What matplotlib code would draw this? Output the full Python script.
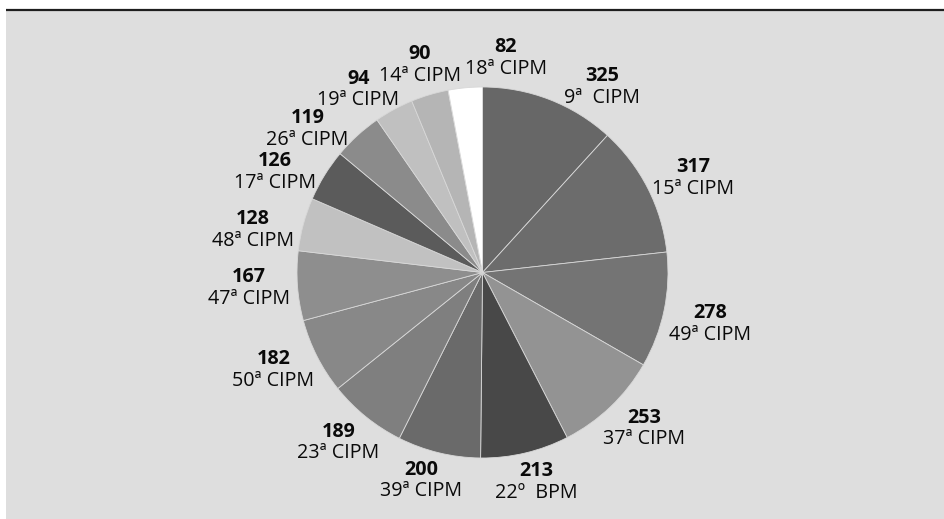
import matplotlib
matplotlib.use("Agg")
import matplotlib.pyplot as plt
from matplotlib.patches import Rectangle
import numpy as np

plt.rcParams['font.family'] = ['Open Sans', 'DejaVu Sans']

# Meetings and number of resolutions/decisions
counts = [325, 317, 278, 253, 213, 200, 189, 182, 167, 128, 126, 119, 94, 90, 82]
meetings = ["9ª  CIPM", "15ª CIPM", "49ª CIPM", "37ª CIPM", "22º  BPM", "39ª CIPM",
            "23ª CIPM", "50ª CIPM", "47ª CIPM", "48ª CIPM", "17ª CIPM", "26ª CIPM",
            "19ª CIPM", "14ª CIPM", "18ª CIPM"]
shades = ["#676767", "#6c6c6c", "#747474", "#939393", "#484848", "#6a6a6a",
          "#7f7f7f", "#888888", "#8e8e8e", "#c1c1c1", "#5b5b5b", "#8b8b8b",
          "#c0c0c0", "#b5b5b5", "#ffffff"]

# Manual angular nudges (degrees) to keep crowded labels apart
label_nudge = {0: -9.5, 1: -1.0, 2: -2.0, 5: -1.6, 6: 1.0, 9: 3.7, 10: 3.8,
               11: 5.9, 12: 3.4, 13: -1.0, 14: -11.0}

W, H = 945, 519
fig = plt.figure(figsize=(W / 100, H / 100), dpi=100)
fig.patch.set_facecolor("white")

ax = fig.add_axes([0, 0, 1, 1])
ax.set_facecolor("none")

# grey panel with a dark rule along the top
ax.add_patch(Rectangle((6, 0), W - 6, H - 10, facecolor="#dedede", edgecolor="none", zorder=0))
ax.plot([6, W], [H - 10, H - 10], color="#1e1e1e", linewidth=1.6, zorder=1,
        solid_capstyle="butt")

cx, cy, r = 482.5, H - 272.5, 185.5
wedges, _ = ax.pie(counts, colors=shades, startangle=90, counterclock=False,
                   center=(cx, cy), radius=r,
                   wedgeprops=dict(edgecolor="#d8d8d8", linewidth=0.6, zorder=2))
ax.set_xlim(0, W)
ax.set_ylim(0, H)
ax.set_aspect("equal")
ax.axis("off")

# label boxes sit just outside the rim, pushed outward by half their size
gap = 8.0
half_w, half_h = 41.0, 22.0
total = sum(counts)
start = 90.0
for i, (n, lab) in enumerate(zip(counts, meetings)):
    span = n / total * 360.0
    mid = start - span / 2
    start -= span
    a = np.deg2rad(mid + label_nudge.get(i, 0.0))
    ux, uy = np.cos(a), np.sin(a)
    x = cx + (r + gap) * ux + half_w * ux
    y = cy + (r + gap) * uy + half_h * uy
    ax.text(x, y + 10.75, str(n), ha="center", va="center", fontsize=14.2,
            fontweight="bold", color="#0a0a0a", zorder=3)
    ax.text(x, y - 10.75, lab, ha="center", va="center", fontsize=14.2,
            color="#0a0a0a", zorder=3)

fig.savefig("out.png", dpi=100, facecolor="white")
